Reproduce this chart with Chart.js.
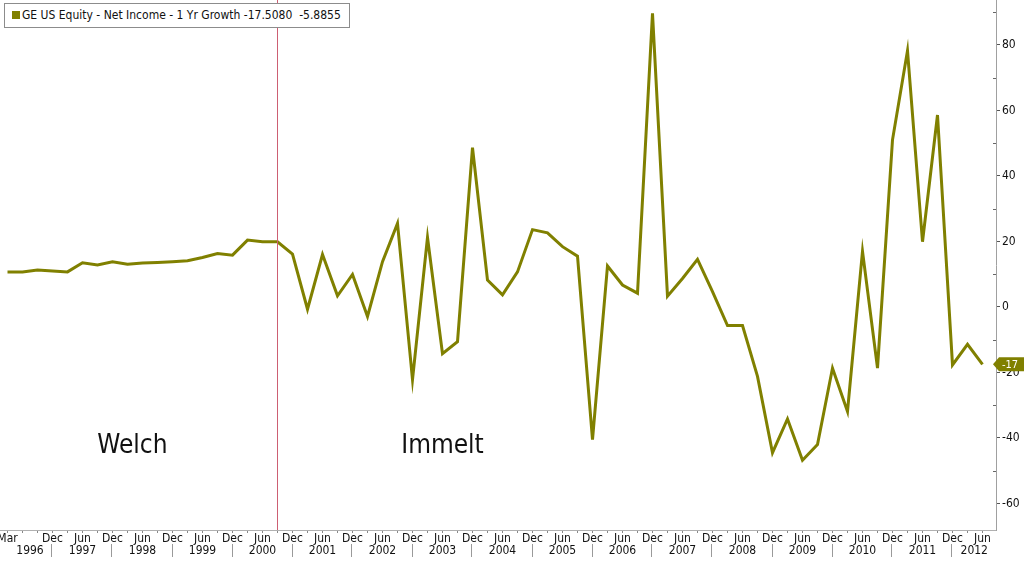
<!DOCTYPE html>
<html>
<head>
<meta charset="utf-8">
<script src="https://cdn.jsdelivr.net/npm/chart.js@4.4.1/dist/chart.umd.min.js"></script>
<style>
  html, body { margin: 0; padding: 0; background: #fff; }
  #wrap { position: relative; width: 1024px; height: 561px; }
  #legendBox {
    position: absolute; left: 4px; top: 3px; width: 346px; height: 25px;
    border: 1px solid #8c8c8c; background: #fff; box-sizing: border-box;
    font-family: 'DejaVu Sans Condensed', 'DejaVu Sans', sans-serif; font-size: 12px;
    line-height: 23px; color: #111; white-space: nowrap; padding-left: 7px;
  }
  #legendBox .sw { display: inline-block; width: 8px; height: 8px; background: #808000; margin-right: 2px; vertical-align: 0px; }
</style>
</head>
<body>
<div id="wrap">
  <canvas id="c" width="1024" height="561"></canvas>
  <div id="legendBox"><span class="sw"></span>GE US Equity - Net Income - 1 Yr Growth -17.5080&nbsp; -5.8855</div>
</div>
<script>
// ---- DATA ----
const categories = [
  'Mar 1996','Jun 1996','Sep 1996','Dec 1996',
  'Mar 1997','Jun 1997','Sep 1997','Dec 1997',
  'Mar 1998','Jun 1998','Sep 1998','Dec 1998',
  'Mar 1999','Jun 1999','Sep 1999','Dec 1999',
  'Mar 2000','Jun 2000','Sep 2000','Dec 2000',
  'Mar 2001','Jun 2001','Sep 2001','Dec 2001',
  'Mar 2002','Jun 2002','Sep 2002','Dec 2002',
  'Mar 2003','Jun 2003','Sep 2003','Dec 2003',
  'Mar 2004','Jun 2004','Sep 2004','Dec 2004',
  'Mar 2005','Jun 2005','Sep 2005','Dec 2005',
  'Mar 2006','Jun 2006','Sep 2006','Dec 2006',
  'Mar 2007','Jun 2007','Sep 2007','Dec 2007',
  'Mar 2008','Jun 2008','Sep 2008','Dec 2008',
  'Mar 2009','Jun 2009','Sep 2009','Dec 2009',
  'Mar 2010','Jun 2010','Sep 2010','Dec 2010',
  'Mar 2011','Jun 2011','Sep 2011','Dec 2011',
  'Mar 2012','Jun 2012'
];
const netIncomeGrowth = [
  10.7, 10.7, 11.3, 11.0,
  10.7, 13.5, 12.8, 13.8,
  13.0, 13.4, 13.6, 13.8,
  14.1, 15.1, 16.3, 15.8,
  20.4, 19.9, 19.9, 16.1,
  -0.7, 16.0, 3.4, 9.9,
  -2.9, 13.8, 25.5, -22.2,
  21.2, -14.3, -10.6, 48.6,
  8.2, 3.7, 10.7, 23.6,
  22.6, 18.4, 15.5, -40.5,
  12.5, 6.7, 4.2, 89.6,
  3.3, 8.7, 14.5, 4.7,
  -5.7, -5.7, -21.2, -44.5,
  -34.2, -46.8, -42.0, -18.7,
  -31.9, 17.0, -18.7, 51.0,
  78.2, 19.9, 58.6, -17.7,
  -11.4, -17.508
];
const yearLabels = ['1996','1997','1998','1999','2000','2001','2002','2003','2004',
                    '2005','2006','2007','2008','2009','2010','2011','2012'];
const yTickValues = [-60, -40, -20, 0, 20, 40, 60, 80];
const regimeChange = 'Sep 2000';
const annotations = [
  { text: 'Welch', category: 'Mar 1998', value: -44.6 },
  { text: 'Immelt', category: 'Jun 2003', value: -44.6 }
];
const lastValueLabel = '-17';

// ---- STYLE ----
const FONT = "'DejaVu Sans Condensed', 'DejaVu Sans', sans-serif";
const OLIVE = '#808000';

const monthOf = (i) => categories[i].split(' ')[0];

const overlay = {
  id: 'overlay',
  afterDatasetsDraw(chart) {
    const { ctx, chartArea, scales: { x } } = chart;
    const px = Math.floor(x.getPixelForValue(categories.indexOf(regimeChange)));
    ctx.save();
    ctx.fillStyle = 'rgb(205, 95, 115)';
    ctx.fillRect(px, chartArea.top, 1, chartArea.bottom - chartArea.top);
    ctx.restore();
  },
  afterDraw(chart) {
    const { ctx, chartArea, scales: { x, y } } = chart;
    ctx.save();
    // annotations
    ctx.fillStyle = '#111';
    ctx.font = '26px ' + FONT;
    ctx.textAlign = 'center';
    ctx.textBaseline = 'alphabetic';
    annotations.forEach((a, k) => {
      const i = categories.indexOf(a.category) + (k === 0 ? 0.33 : 0);
      ctx.fillText(a.text, x.getPixelForValue(i), y.getPixelForValue(a.value));
    });
    // year row with separators
    const decIdx = [];
    categories.forEach((c, i) => { if (c.startsWith('Dec')) decIdx.push(i); });
    const bounds = [x.getPixelForValue(0)];
    decIdx.forEach(i => bounds.push(x.getPixelForValue(i)));
    bounds.push(chartArea.right);
    ctx.font = '12px ' + FONT;
    ctx.fillStyle = '#111';
    ctx.textBaseline = 'middle';
    ctx.textAlign = 'center';
    yearLabels.forEach((yl, k) => {
      ctx.fillText(yl, (bounds[k] + bounds[k + 1]) / 2, 551);
    });
    ctx.strokeStyle = '#9a9a9a';
    ctx.lineWidth = 1;
    decIdx.forEach(i => {
      const px = Math.round(x.getPixelForValue(i)) - 0.5;
      ctx.beginPath();
      ctx.moveTo(px, 544);
      ctx.lineTo(px, 557);
      ctx.stroke();
    });
    // minor y ticks (left side of axis)
    ctx.strokeStyle = '#666';
    for (let v = -60; v <= 90; v += 10) {
      if (v % 20 === 0) continue;
      const py = Math.round(y.getPixelForValue(v)) + 0.5;
      ctx.beginPath();
      ctx.moveTo(chartArea.right - 3, py);
      ctx.lineTo(chartArea.right, py);
      ctx.stroke();
    }
    // last value tag
    const last = netIncomeGrowth[netIncomeGrowth.length - 1];
    const ty = y.getPixelForValue(last);
    const tx = chartArea.right - 3;
    ctx.fillStyle = OLIVE;
    ctx.beginPath();
    ctx.moveTo(tx, ty);
    ctx.lineTo(tx + 6, ty - 7);
    ctx.lineTo(1024, ty - 7);
    ctx.lineTo(1024, ty + 7);
    ctx.lineTo(tx + 6, ty + 7);
    ctx.closePath();
    ctx.fill();
    ctx.fillStyle = '#fff';
    ctx.font = '11px ' + FONT;
    ctx.textAlign = 'left';
    ctx.textBaseline = 'middle';
    ctx.fillText(lastValueLabel, tx + 9, ty + 0.5);
    ctx.restore();
  }
};

new Chart(document.getElementById('c'), {
  type: 'line',
  data: {
    datasets: [{
      label: 'GE US Equity - Net Income - 1 Yr Growth',
      data: netIncomeGrowth.map((v, i) => ({ x: i, y: v })),
      borderColor: OLIVE,
      borderWidth: 3,
      pointRadius: 0,
      tension: 0,
      fill: false,
      borderJoinStyle: 'miter'
    }]
  },
  options: {
    responsive: false,
    animation: false,
    devicePixelRatio: 1,
    layout: { padding: 0 },
    plugins: { legend: { display: false }, tooltip: { enabled: false } },
    scales: {
      x: {
        type: 'linear',
        position: 'bottom',
        min: -0.5,
        max: 65.9,
        afterBuildTicks: (axis) => {
          axis.ticks = categories.map((c, i) => ({ value: i }));
        },
        afterFit: (axis) => { axis.height = 31; axis.paddingLeft = 0; axis.paddingRight = 0; },
        grid: { drawOnChartArea: false, tickLength: 3, color: '#888' },
        border: { display: true, color: '#b0b0b0' },
        ticks: {
          autoSkip: false,
          maxRotation: 0,
          padding: -1,
          color: '#111',
          font: { family: FONT, size: 12 },
          callback: (v) => {
            const i = Math.round(v);
            if (i === 0) return monthOf(0);
            const m = monthOf(i);
            if (i >= 3 && (m === 'Jun' || m === 'Dec')) return m;
            return '';
          }
        }
      },
      y: {
        type: 'linear',
        position: 'right',
        min: -68.1,
        max: 93.7,
        afterBuildTicks: (axis) => {
          axis.ticks = yTickValues.map(v => ({ value: v }));
        },
        afterFit: (axis) => { axis.width = 28; axis.paddingTop = 0; axis.paddingBottom = 0; },
        grid: { drawOnChartArea: false, tickLength: 4, color: '#555' },
        border: { display: true, color: '#a0a0a0' },
        ticks: {
          padding: 2,
          color: '#111',
          font: { family: FONT, size: 12 },
          callback: (v) => String(v)
        }
      }
    }
  },
  plugins: [overlay]
});
</script>
</body>
</html>
